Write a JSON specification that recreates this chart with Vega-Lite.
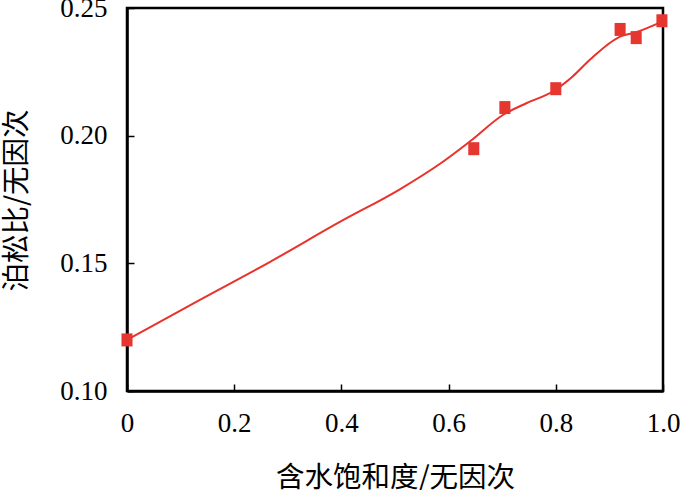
{
  "$schema": "https://vega.github.io/schema/vega-lite/v6.json",
  "width": 536,
  "height": 383,
  "autosize": {"type": "none"},
  "padding": {"left": 127, "top": 8, "right": 37, "bottom": 99},
  "background": "white",
  "config": {
    "view": {"stroke": "black", "strokeWidth": 2.5},
    "axis": {
      "grid": false,
      "domainColor": "black",
      "domainWidth": 2.5,
      "tickColor": "black",
      "tickWidth": 1.5,
      "tickSize": -7,
      "labelFlush": false,
      "labelFont": "Liberation Serif",
      "labelFontSize": 27,
      "labelColor": "black",
      "titleFont": "Noto Sans CJK SC",
      "titleFontSize": 28.5,
      "titleFontWeight": "normal",
      "titleColor": "black"
    }
  },
  "datasets": {
    "pts": [
      {"s": 0.0, "v": 0.120},
      {"s": 0.647, "v": 0.1949},
      {"s": 0.705, "v": 0.2110},
      {"s": 0.800, "v": 0.2184},
      {"s": 0.920, "v": 0.2416},
      {"s": 0.950, "v": 0.2384},
      {"s": 0.998, "v": 0.2450}
    ],
    "fit": [
      {"s": 0.0, "v": 0.120},
      {"s": 0.136, "v": 0.1357},
      {"s": 0.267, "v": 0.1506},
      {"s": 0.397, "v": 0.1662},
      {"s": 0.509, "v": 0.1790},
      {"s": 0.584, "v": 0.1890},
      {"s": 0.640, "v": 0.1978},
      {"s": 0.702, "v": 0.2082},
      {"s": 0.746, "v": 0.2128},
      {"s": 0.795, "v": 0.2174},
      {"s": 0.832, "v": 0.2233},
      {"s": 0.864, "v": 0.2298},
      {"s": 0.920, "v": 0.2388},
      {"s": 0.948, "v": 0.2404},
      {"s": 0.994, "v": 0.2443}
    ]
  },
  "layer": [
    {
      "data": {"name": "fit"},
      "mark": {"type": "line", "color": "#e8322b", "strokeWidth": 2, "interpolate": "monotone", "clip": false},
      "encoding": {
        "x": {
          "field": "s", "type": "quantitative",
          "scale": {"domain": [0, 1], "nice": false, "zero": false},
          "axis": {
            "values": [0, 0.2, 0.4, 0.6, 0.8, 1.0],
            "labelExpr": "datum.value == 0 ? '0' : format(datum.value, '.1f')",
            "labelPadding": 26,
            "title": "含水饱和度/无因次",
            "titleX": 268,
            "titleY": 86,
            "titleAlign": "center",
            "titleBaseline": "middle"
          }
        },
        "y": {
          "field": "v", "type": "quantitative",
          "scale": {"domain": [0.10, 0.25], "nice": false, "zero": false},
          "axis": {
            "values": [0.10, 0.15, 0.20, 0.25],
            "format": ".2f",
            "labelPadding": 27,
            "title": "泊松比/无因次",
            "titleX": -111,
            "titleY": 192,
            "titleAlign": "center",
            "titleBaseline": "middle",
            "titleAngle": -90
          }
        }
      }
    },
    {
      "data": {"name": "pts"},
      "mark": {"type": "point", "shape": "M-0.85,-1H0.85V1H-0.85Z", "filled": true, "size": 169, "color": "#e63630", "opacity": 1, "clip": false},
      "encoding": {
        "x": {"field": "s", "type": "quantitative"},
        "y": {"field": "v", "type": "quantitative"}
      }
    }
  ]
}
